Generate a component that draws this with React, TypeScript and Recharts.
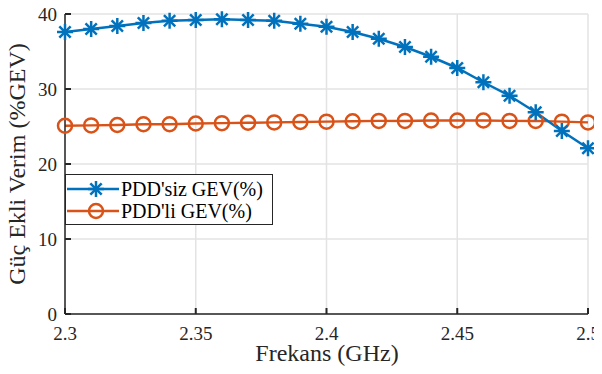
import React from "react"
import { LineChart, Line, XAxis, YAxis, CartesianGrid } from "recharts"

const frequencies = [
  2.3, 2.31, 2.32, 2.33, 2.34, 2.35, 2.36, 2.37, 2.38, 2.39, 2.4,
  2.41, 2.42, 2.43, 2.44, 2.45, 2.46, 2.47, 2.48, 2.49, 2.5,
]
const withoutPdd = [
  37.6, 38.0, 38.4, 38.8, 39.1, 39.2, 39.3, 39.2, 39.1, 38.7, 38.3,
  37.6, 36.7, 35.6, 34.3, 32.8, 30.9, 29.1, 26.9, 24.4, 22.1,
]
const withPdd = [
  25.1, 25.15, 25.2, 25.3, 25.3, 25.4, 25.45, 25.5, 25.55, 25.6, 25.65,
  25.7, 25.75, 25.75, 25.8, 25.8, 25.8, 25.75, 25.75, 25.65, 25.55,
]
const xTicks = [2.3, 2.35, 2.4, 2.45, 2.5]
const yTicks = [0, 10, 20, 30, 40]
const seriesNames = ["PDD'siz GEV(%)", "PDD'li GEV(%)"]
const xTitle = "Frekans (GHz)"
const yTitle = "Güç Ekli Verim (%GEV)"

const BLUE = "#0072BD"
const ORANGE = "#D95319"
const AXIS = "#262626"
const FONT = '"Liberation Serif", "Times New Roman", serif'

const data = frequencies.map((f, i) => ({ f, a: withoutPdd[i], b: withPdd[i] }))

// MATLAB style '*' marker: a plus and a cross on top of each other
const Star = ({ cx, cy }: any) => {
  if (cx == null || cy == null) return null
  const r = 8
  const d = r * 0.707
  return (
    <g stroke={BLUE} strokeWidth={2.5}>
      <line x1={cx - r} y1={cy} x2={cx + r} y2={cy} />
      <line x1={cx} y1={cy - r} x2={cx} y2={cy + r} />
      <line x1={cx - d} y1={cy - d} x2={cx + d} y2={cy + d} />
      <line x1={cx - d} y1={cy + d} x2={cx + d} y2={cy - d} />
    </g>
  )
}

const Ring = ({ cx, cy }: any) => {
  if (cx == null || cy == null) return null
  return <circle cx={cx} cy={cy} r={7} fill="none" stroke={ORANGE} strokeWidth={2.5} />
}

// ticks point inwards, like MATLAB
const X_MARGIN = 13
const XTick = ({ x, y, payload }: any) => (
  <g>
    <line x1={x} y1={y - X_MARGIN} x2={x} y2={y - X_MARGIN - 6} stroke={AXIS} strokeWidth={2} />
    <text
      x={x}
      y={y}
      dy="0.71em"
      textAnchor="middle"
      fill={AXIS}
      fontSize={19}
      style={{ fontFamily: FONT, fontSize: 19 }}
    >
      {String(payload.value)}
    </text>
  </g>
)

const Y_MARGIN = 8
const YTick = ({ x, y, payload }: any) => (
  <g>
    <line x1={x + Y_MARGIN} y1={y} x2={x + Y_MARGIN + 6} y2={y} stroke={AXIS} strokeWidth={2} />
    <text
      x={x}
      y={y}
      dy="0.36em"
      textAnchor="end"
      fill={AXIS}
      fontSize={19}
      style={{ fontFamily: FONT, fontSize: 19 }}
    >
      {String(payload.value)}
    </text>
  </g>
)

function LegendRow({ name, marker, color }: { name: string; marker: "star" | "ring"; color: string }) {
  return (
    <div style={{ display: "flex", alignItems: "center", height: 22 }}>
      <svg width={54} height={22} style={{ display: "block" }}>
        <line x1={1} y1={11} x2={53} y2={11} stroke={color} strokeWidth={2.5} />
        {marker === "star" ? <Star cx={30} cy={11} /> : <Ring cx={30} cy={11} />}
      </svg>
      <span style={{ marginLeft: 1, fontSize: 20, color: "#000", whiteSpace: "nowrap" }}>{name}</span>
    </div>
  )
}

export default function App() {
  return (
    <div
      style={{
        position: "relative",
        width: 602,
        height: 374,
        margin: -8,
        background: "#fff",
        fontFamily: FONT,
      }}
    >
      <LineChart width={602} height={374} data={data} margin={{ top: 14, right: 14, bottom: 0, left: 0 }}>
        <CartesianGrid stroke="#e3e3e3" strokeWidth={1.5} horizontalValues={yTicks} verticalValues={xTicks} />
        <XAxis
          dataKey="f"
          type="number"
          domain={[2.3, 2.5]}
          ticks={xTicks}
          height={60}
          tickSize={0}
          tickMargin={X_MARGIN}
          tick={XTick}
          stroke={AXIS}
          strokeWidth={1.5}
          interval={0}
        />
        <YAxis
          type="number"
          domain={[0, 40]}
          ticks={yTicks}
          width={65}
          tickSize={0}
          tickMargin={Y_MARGIN}
          tick={YTick}
          stroke={AXIS}
          strokeWidth={1.5}
          interval={0}
        />
        <Line
          dataKey="b"
          stroke={ORANGE}
          strokeWidth={2.5}
          dot={<Ring />}
          activeDot={false}
          isAnimationActive={false}
        />
        <Line
          dataKey="a"
          stroke={BLUE}
          strokeWidth={2.5}
          dot={<Star />}
          activeDot={false}
          isAnimationActive={false}
        />
      </LineChart>

      {/* axis titles */}
      <div
        style={{
          position: "absolute",
          left: 327,
          top: 341,
          transform: "translateX(-50%)",
          fontSize: 24,
          lineHeight: "24px",
          color: AXIS,
          whiteSpace: "nowrap",
        }}
      >
        {xTitle}
      </div>
      <div
        style={{
          position: "absolute",
          left: 17,
          top: 164,
          transform: "translate(-50%, -50%) rotate(-90deg)",
          fontSize: 24,
          lineHeight: "24px",
          color: AXIS,
          whiteSpace: "nowrap",
        }}
      >
        {yTitle}
      </div>

      <div
        style={{
          position: "absolute",
          left: 65,
          top: 174,
          width: 206,
          height: 46,
          border: "1px solid #262626",
          background: "#fff",
          paddingTop: 3,
          boxSizing: "content-box",
        }}
      >
        <LegendRow name={seriesNames[0]} marker="star" color={BLUE} />
        <LegendRow name={seriesNames[1]} marker="ring" color={ORANGE} />
      </div>
    </div>
  )
}
